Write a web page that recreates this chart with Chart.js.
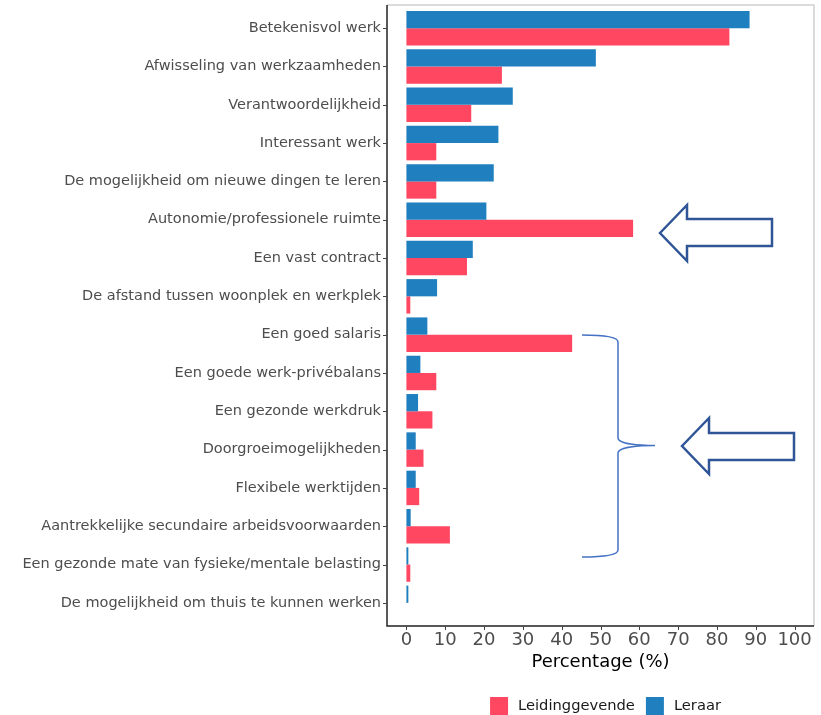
<!DOCTYPE html>
<html>
<head>
<meta charset="utf-8">
<script src="https://cdn.jsdelivr.net/npm/chart.js@4.4.1/dist/chart.umd.min.js"></script>
<style>
  html, body { margin: 0; padding: 0; background: #fff; }
  #chart { display: block; }
</style>
</head>
<body>
<canvas id="chart" width="821" height="715"></canvas>
<script>
  // Categories, top to bottom
  const categories = [
    'Betekenisvol werk',
    'Afwisseling van werkzaamheden',
    'Verantwoordelijkheid',
    'Interessant werk',
    'De mogelijkheid om nieuwe dingen te leren',
    'Autonomie/professionele ruimte',
    'Een vast contract',
    'De afstand tussen woonplek en werkplek',
    'Een goed salaris',
    'Een goede werk-privébalans',
    'Een gezonde werkdruk',
    'Doorgroeimogelijkheden',
    'Flexibele werktijden',
    'Aantrekkelijke secundaire arbeidsvoorwaarden',
    'Een gezonde mate van fysieke/mentale belasting',
    'De mogelijkheid om thuis te kunnen werken'
  ];

  // Percentages
  const leraar = [88.4, 48.8, 27.4, 23.7, 22.5, 20.6, 17.1, 7.9, 5.4, 3.6, 3.0, 2.4, 2.4, 1.1, 0.5, 0.5];
  const leidinggevende = [83.2, 24.6, 16.7, 7.7, 7.7, 58.4, 15.6, 1.0, 42.7, 7.7, 6.7, 4.4, 3.3, 11.2, 1.0, 0];

  const xTicks = [0, 10, 20, 30, 40, 50, 60, 70, 80, 90, 100];

  const BLUE = '#1F7FBF';
  const RED = '#FF4761';
  const FONT = '"DejaVu Sans", Verdana, sans-serif';

  /**
   * Frame, tick marks, legend and the hand-drawn annotations
   */
  const decorations = {
    id: 'decorations',
    afterDraw(chart) {
      const { ctx, chartArea: a, scales } = chart;
      const top = a.top - 4, bottom = a.bottom + 4;
      ctx.save();

      // light panel border (top / right)
      ctx.strokeStyle = '#CFCFCF';
      ctx.lineWidth = 1.5;
      ctx.beginPath();
      ctx.moveTo(a.left, top);
      ctx.lineTo(a.right, top);
      ctx.lineTo(a.right, bottom);
      ctx.stroke();

      // axis lines (left / bottom)
      ctx.strokeStyle = '#222';
      ctx.beginPath();
      ctx.moveTo(a.left, top);
      ctx.lineTo(a.left, bottom);
      ctx.lineTo(a.right, bottom);
      ctx.stroke();

      // tick marks
      ctx.lineWidth = 1;
      ctx.strokeStyle = '#444';
      categories.forEach((c, i) => {
        const y = Math.round(scales.y.getPixelForValue(i)) + 0.5;
        ctx.beginPath();
        ctx.moveTo(a.left - 4, y);
        ctx.lineTo(a.left, y);
        ctx.stroke();
      });
      xTicks.forEach(v => {
        const x = Math.round(scales.x.getPixelForValue(v)) + 0.5;
        ctx.beginPath();
        ctx.moveTo(x, bottom);
        ctx.lineTo(x, bottom + 4);
        ctx.stroke();
      });

      // legend (reverse order, like the original)
      ctx.font = '14.7px ' + FONT;
      ctx.textBaseline = 'middle';
      const items = chart.data.datasets.slice().reverse();
      const box = 18, gap = 10, itemGap = 11;
      let total = 0;
      items.forEach((d, i) => {
        total += box + gap + ctx.measureText(d.label).width + (i < items.length - 1 ? itemGap : 0);
      });
      let lx = (a.left + a.right) / 2 + 5 - total / 2;
      const ly = 706;
      items.forEach(d => {
        ctx.fillStyle = d.backgroundColor;
        ctx.fillRect(lx, ly - box / 2, box, box);
        lx += box + gap;
        ctx.fillStyle = '#1a1a1a';
        ctx.fillText(d.label, lx, ly);
        lx += ctx.measureText(d.label).width + itemGap;
      });

      // hollow arrows
      const arrow = (tx, ty, hx, ht, hb, st, sb, rx) => {
        ctx.beginPath();
        ctx.moveTo(tx, ty);
        ctx.lineTo(hx, ht);
        ctx.lineTo(hx, st);
        ctx.lineTo(rx, st);
        ctx.lineTo(rx, sb);
        ctx.lineTo(hx, sb);
        ctx.lineTo(hx, hb);
        ctx.closePath();
        ctx.fillStyle = '#fff';
        ctx.fill();
        ctx.strokeStyle = '#2F5597';
        ctx.lineWidth = 2.5;
        ctx.lineJoin = 'miter';
        ctx.stroke();
      };
      arrow(660, 233, 687, 205, 261, 219, 246, 772);
      arrow(682, 446, 709, 418, 474, 433, 460, 794);

      // curly brace
      ctx.strokeStyle = '#4472C4';
      ctx.lineWidth = 1.5;
      ctx.beginPath();
      ctx.moveTo(582, 335);
      ctx.bezierCurveTo(600, 335, 618, 336, 618, 342);
      ctx.lineTo(618, 438);
      ctx.bezierCurveTo(618, 444, 640, 445.5, 655, 445.5);
      ctx.moveTo(655, 445.5);
      ctx.bezierCurveTo(640, 445.5, 618, 447, 618, 453);
      ctx.lineTo(618, 550);
      ctx.bezierCurveTo(618, 556, 600, 557, 582, 557);
      ctx.stroke();

      ctx.restore();
    }
  };

  new Chart(document.getElementById('chart'), {
    type: 'bar',
    data: {
      labels: categories,
      datasets: [
        { label: 'Leraar', data: leraar, backgroundColor: BLUE, borderWidth: 0 },
        { label: 'Leidinggevende', data: leidinggevende, backgroundColor: RED, borderWidth: 0 }
      ]
    },
    options: {
      indexAxis: 'y',
      responsive: false,
      animation: false,
      events: [],
      layout: { padding: { top: 9, right: 7, bottom: 21, left: 0 } },
      datasets: {
        bar: { categoryPercentage: 0.9, barPercentage: 1.0 }
      },
      plugins: {
        legend: { display: false },
        tooltip: { enabled: false }
      },
      scales: {
        x: {
          type: 'linear',
          min: -5,
          max: 105,
          afterBuildTicks: (scale) => {
            scale.ticks = xTicks.map(v => ({ value: v }));
          },
          afterFit: (scale) => {
            scale.height = 72;
            scale.paddingLeft = 0;
            scale.paddingRight = 0;
          },
          grid: { display: false, drawTicks: false },
          border: { display: false },
          ticks: {
            color: '#4D4D4D',
            padding: 8,
            maxRotation: 0,
            autoSkip: false,
            font: { family: FONT, size: 18 }
          },
          title: {
            display: true,
            text: 'Percentage (%)',
            color: '#000',
            padding: { top: 0, bottom: 21 },
            font: { family: FONT, size: 18 }
          }
        },
        y: {
          type: 'category',
          afterFit: (scale) => {
            scale.width = 387;
            scale.paddingTop = 0;
            scale.paddingBottom = 0;
          },
          grid: { display: false, drawTicks: false },
          border: { display: false },
          ticks: {
            color: '#4D4D4D',
            padding: 6,
            autoSkip: false,
            font: { family: FONT, size: 14.5 }
          }
        }
      }
    },
    plugins: [decorations]
  });
</script>
</body>
</html>
